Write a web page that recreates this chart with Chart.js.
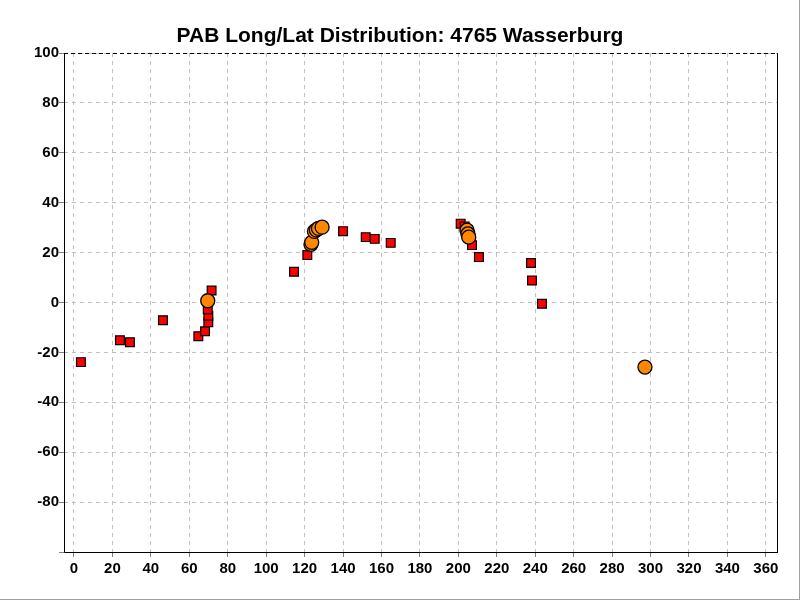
<!DOCTYPE html>
<html>
<head>
<meta charset="utf-8">
<script src="https://cdn.jsdelivr.net/npm/chart.js@4"></script>
<style>
  html, body { margin: 0; padding: 0; background: #fff; }
  #wrap { width: 800px; height: 600px; }
</style>
</head>
<body>
<div id="wrap"><canvas id="grafico" width="800" height="600"></canvas></div>
<script>
// valores
var tituloGrafico = 'PAB Long/Lat Distribution: 4765 Wasserburg';

var quadradosLong = [3.6, 23.9, 29.1, 46.3, 64.7, 68.2, 69.9, 69.9, 69.6, 71.6,
                     114.5, 121.4, 140, 151.8, 156.5, 164.8,
                     201.2, 203.3, 207.1, 210.7, 237.8, 238.3, 243.5];
var quadradosLat  = [-23.9, -15.1, -15.9, -7.1, -13.5, -11.5, -7.9, -5.3, -2.7, 4.8,
                     12.3, 19.0, 28.6, 26.2, 25.5, 23.9,
                     31.6, 30.5, 23.0, 18.2, 15.8, 8.8, -0.5];

var circulosLong = [69.6, 123.3, 123.7, 125.1, 126.1, 127.2, 129.1, 204.5, 205.0, 205.4, 297.1];
var circulosLat  = [0.7, 23.3, 24.1, 28.5, 29.1, 29.7, 30.2, 29.0, 27.5, 26.2, -25.9];

var ticksX = [0, 20, 40, 60, 80, 100, 120, 140, 160, 180, 200, 220, 240, 260, 280, 300, 320, 340, 360];
var ticksY = [-100, -80, -60, -40, -20, 0, 20, 40, 60, 80, 100];

function pontos(xs, ys) {
    return xs.map(function(x, i) { return { x: x, y: ys[i] }; });
}

var fonteEixo = { family: 'Liberation Sans, Arial, sans-serif', size: 15, weight: 'bold' };

var molduraPlugin = {
    id: 'moldura',
    afterDraw: function(chart) {
        var ctx = chart.ctx;
        var a = chart.chartArea;
        ctx.save();
        // borda superior tracejada
        ctx.strokeStyle = '#000';
        ctx.lineWidth = 1;
        ctx.setLineDash([4, 3]);
        ctx.beginPath();
        ctx.moveTo(a.left, Math.round(a.top) + 0.5);
        ctx.lineTo(a.right, Math.round(a.top) + 0.5);
        ctx.stroke();
        // borda direita solida
        ctx.setLineDash([]);
        ctx.beginPath();
        ctx.moveTo(Math.round(a.right) + 0.5, a.top);
        ctx.lineTo(Math.round(a.right) + 0.5, a.bottom);
        ctx.stroke();
        // eixos esquerdo e inferior solidos
        ctx.beginPath();
        ctx.moveTo(Math.round(a.left) + 0.5, a.top);
        ctx.lineTo(Math.round(a.left) + 0.5, Math.round(a.bottom) + 0.5);
        ctx.lineTo(a.right + 1, Math.round(a.bottom) + 0.5);
        ctx.stroke();
        // titulo
        ctx.fillStyle = '#000';
        ctx.font = 'bold 21px Liberation Sans, Arial, sans-serif';
        ctx.textAlign = 'center';
        ctx.textBaseline = 'middle';
        ctx.fillText(tituloGrafico, 400, 36);
        // moldura da janela
        ctx.strokeStyle = '#a0a0a0';
        ctx.beginPath();
        ctx.moveTo(799.5, 0);
        ctx.lineTo(799.5, 600);
        ctx.moveTo(0, 599.5);
        ctx.lineTo(800, 599.5);
        ctx.stroke();
        ctx.restore();
    }
};

var contexto = document.getElementById('grafico').getContext('2d');
new Chart(contexto, {
    type: 'scatter',
    data: {
        datasets: [
            {
                label: 'Quadrados',
                data: pontos(quadradosLong, quadradosLat),
                pointStyle: 'rect',
                pointRadius: 6.2,
                backgroundColor: '#ff0000',
                borderColor: '#000',
                borderWidth: 1.2,
                order: 2
            },
            {
                label: 'Circulos',
                data: pontos(circulosLong, circulosLat),
                pointStyle: 'circle',
                pointRadius: 7,
                backgroundColor: '#ff8800',
                borderColor: '#000',
                borderWidth: 1.3,
                order: 1
            }
        ]
    },
    options: {
        responsive: false,
        animation: false,
        layout: {
            padding: { top: 53, right: 23, left: 0, bottom: 0 }
        },
        plugins: {
            legend: { display: false },
            title: { display: false },
            tooltip: { enabled: false }
        },
        scales: {
            x: {
                type: 'linear',
                min: -5.2,
                max: 365.8,
                afterBuildTicks: function(scale) {
                    scale.ticks = ticksX.map(function(v) { return { value: v }; });
                },
                afterFit: function(scale) { scale.height = 48; },
                ticks: {
                    color: '#000',
                    font: fonteEixo,
                    padding: 3,
                    maxRotation: 0,
                    autoSkip: false
                },
                grid: {
                    color: '#c0c0c0',
                    tickColor: '#808080',
                    tickLength: 5,
                    tickBorderDash: [],
                    drawTicks: true
                },
                border: {
                    display: false,
                    dash: [4, 4]
                }
            },
            y: {
                type: 'linear',
                min: -100,
                max: 100,
                afterBuildTicks: function(scale) {
                    scale.ticks = ticksY.map(function(v) { return { value: v }; });
                },
                afterFit: function(scale) { scale.width = 64; },
                ticks: {
                    color: '#000',
                    font: fonteEixo,
                    padding: 0,
                    autoSkip: false,
                    callback: function(valor) {
                        return valor === -100 ? '' : valor;
                    }
                },
                grid: {
                    color: '#c0c0c0',
                    tickColor: '#808080',
                    tickLength: 5,
                    tickBorderDash: []
                },
                border: {
                    display: false,
                    dash: [4, 4]
                }
            }
        }
    },
    plugins: [molduraPlugin]
});
</script>
</body>
</html>
